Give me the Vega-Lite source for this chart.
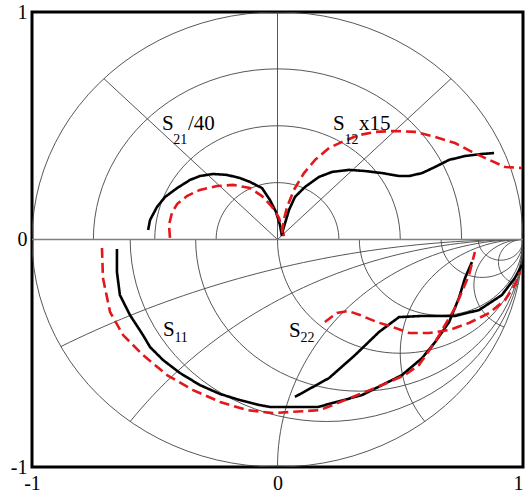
{
  "$schema": "https://vega.github.io/schema/vega-lite/v6.json",
  "width": 491,
  "height": 455,
  "autosize": {"type": "none"},
  "padding": {"left": 32, "top": 12, "right": 2, "bottom": 28},
  "background": "white",
  "config": {
    "view": {"stroke": "#000000", "strokeWidth": 3},
    "axis": {
      "labelFont": "Liberation Serif",
      "labelFontSize": 20,
      "labelColor": "#000000",
      "ticks": false,
      "domain": false,
      "grid": false,
      "title": null,
      "labelFlush": false,
      "labelOverlap": false
    }
  },
  "datasets": {
    "grid": [
      {
        "curves": [
          {"kind": "polar", "v": 0.25},
          {"kind": "polar", "v": 0.5},
          {"kind": "polar", "v": 0.75},
          {"kind": "polar", "v": 1},
          {"kind": "res", "v": 0},
          {"kind": "res", "v": 0.25},
          {"kind": "res", "v": 0.5},
          {"kind": "res", "v": 1},
          {"kind": "res", "v": 2},
          {"kind": "res", "v": 5},
          {"kind": "res", "v": 10},
          {"kind": "reac", "v": 0.25},
          {"kind": "reac", "v": 0.5},
          {"kind": "reac", "v": 1},
          {"kind": "reac", "v": 2},
          {"kind": "reac", "v": 5},
          {"kind": "reac", "v": 10}
        ],
        "t": [0,0.02,0.04,0.06,0.08,0.1,0.12,0.14,0.16,0.18,0.2,0.22,0.24,0.26,0.28,0.3,0.32,0.34,0.36,0.38,0.4,0.42,0.44,0.46,0.48,0.5,0.52,0.54,0.56,0.58,0.6,0.62,0.64,0.66,0.68,0.7,0.72,0.74,0.76,0.78,0.8,0.82,0.84,0.86,0.88,0.9,0.92,0.94,0.96,0.98,1]
      }
    ],
    "spokes": [
      {"x0": 0, "y0": 0, "x1": 0.7071, "y1": 0.7071},
      {"x0": 0, "y0": 0, "x1": 0, "y1": 1},
      {"x0": 0, "y0": 0, "x1": -0.7071, "y1": 0.7071}
    ],
    "axisline": [
      {"x0": -1, "x1": 1, "y0": 0}
    ],
    "curves": [
      {"curve": "S21 black", "set": "measured", "x": -0.527, "y": 0.042},
      {"curve": "S21 black", "set": "measured", "x": -0.519, "y": 0.086},
      {"curve": "S21 black", "set": "measured", "x": -0.491, "y": 0.143},
      {"curve": "S21 black", "set": "measured", "x": -0.458, "y": 0.187},
      {"curve": "S21 black", "set": "measured", "x": -0.409, "y": 0.226},
      {"curve": "S21 black", "set": "measured", "x": -0.356, "y": 0.262},
      {"curve": "S21 black", "set": "measured", "x": -0.316, "y": 0.279},
      {"curve": "S21 black", "set": "measured", "x": -0.263, "y": 0.288},
      {"curve": "S21 black", "set": "measured", "x": -0.206, "y": 0.284},
      {"curve": "S21 black", "set": "measured", "x": -0.153, "y": 0.270},
      {"curve": "S21 black", "set": "measured", "x": -0.112, "y": 0.253},
      {"curve": "S21 black", "set": "measured", "x": -0.063, "y": 0.226},
      {"curve": "S21 black", "set": "measured", "x": -0.031, "y": 0.174},
      {"curve": "S21 black", "set": "measured", "x": -0.006, "y": 0.121},
      {"curve": "S21 black", "set": "measured", "x": 0.010, "y": 0.064},
      {"curve": "S21 black", "set": "measured", "x": 0.018, "y": 0.015},

      {"curve": "S21 red", "set": "simulated", "x": -0.438, "y": 0.007},
      {"curve": "S21 red", "set": "simulated", "x": -0.442, "y": 0.064},
      {"curve": "S21 red", "set": "simulated", "x": -0.430, "y": 0.117},
      {"curve": "S21 red", "set": "simulated", "x": -0.409, "y": 0.156},
      {"curve": "S21 red", "set": "simulated", "x": -0.369, "y": 0.191},
      {"curve": "S21 red", "set": "simulated", "x": -0.316, "y": 0.218},
      {"curve": "S21 red", "set": "simulated", "x": -0.246, "y": 0.235},
      {"curve": "S21 red", "set": "simulated", "x": -0.181, "y": 0.240},
      {"curve": "S21 red", "set": "simulated", "x": -0.112, "y": 0.226},
      {"curve": "S21 red", "set": "simulated", "x": -0.063, "y": 0.191},
      {"curve": "S21 red", "set": "simulated", "x": -0.022, "y": 0.143},
      {"curve": "S21 red", "set": "simulated", "x": 0.006, "y": 0.095},
      {"curve": "S21 red", "set": "simulated", "x": 0.018, "y": 0.051},
      {"curve": "S21 red", "set": "simulated", "x": 0.026, "y": 0.015},

      {"curve": "S12 black", "set": "measured", "x": 0.018, "y": 0.024},
      {"curve": "S12 black", "set": "measured", "x": 0.026, "y": 0.055},
      {"curve": "S12 black", "set": "measured", "x": 0.047, "y": 0.130},
      {"curve": "S12 black", "set": "measured", "x": 0.071, "y": 0.187},
      {"curve": "S12 black", "set": "measured", "x": 0.112, "y": 0.231},
      {"curve": "S12 black", "set": "measured", "x": 0.169, "y": 0.275},
      {"curve": "S12 black", "set": "measured", "x": 0.222, "y": 0.297},
      {"curve": "S12 black", "set": "measured", "x": 0.291, "y": 0.306},
      {"curve": "S12 black", "set": "measured", "x": 0.356, "y": 0.301},
      {"curve": "S12 black", "set": "measured", "x": 0.426, "y": 0.292},
      {"curve": "S12 black", "set": "measured", "x": 0.495, "y": 0.279},
      {"curve": "S12 black", "set": "measured", "x": 0.536, "y": 0.279},
      {"curve": "S12 black", "set": "measured", "x": 0.589, "y": 0.292},
      {"curve": "S12 black", "set": "measured", "x": 0.642, "y": 0.319},
      {"curve": "S12 black", "set": "measured", "x": 0.699, "y": 0.350},
      {"curve": "S12 black", "set": "measured", "x": 0.764, "y": 0.367},
      {"curve": "S12 black", "set": "measured", "x": 0.833, "y": 0.376},
      {"curve": "S12 black", "set": "measured", "x": 0.882, "y": 0.380},

      {"curve": "S12 red", "set": "simulated", "x": 0.018, "y": 0.029},
      {"curve": "S12 red", "set": "simulated", "x": 0.026, "y": 0.086},
      {"curve": "S12 red", "set": "simulated", "x": 0.039, "y": 0.143},
      {"curve": "S12 red", "set": "simulated", "x": 0.067, "y": 0.218},
      {"curve": "S12 red", "set": "simulated", "x": 0.108, "y": 0.292},
      {"curve": "S12 red", "set": "simulated", "x": 0.153, "y": 0.350},
      {"curve": "S12 red", "set": "simulated", "x": 0.210, "y": 0.402},
      {"curve": "S12 red", "set": "simulated", "x": 0.263, "y": 0.429},
      {"curve": "S12 red", "set": "simulated", "x": 0.332, "y": 0.459},
      {"curve": "S12 red", "set": "simulated", "x": 0.397, "y": 0.473},
      {"curve": "S12 red", "set": "simulated", "x": 0.479, "y": 0.477},
      {"curve": "S12 red", "set": "simulated", "x": 0.560, "y": 0.473},
      {"curve": "S12 red", "set": "simulated", "x": 0.642, "y": 0.451},
      {"curve": "S12 red", "set": "simulated", "x": 0.723, "y": 0.424},
      {"curve": "S12 red", "set": "simulated", "x": 0.792, "y": 0.385},
      {"curve": "S12 red", "set": "simulated", "x": 0.862, "y": 0.350},
      {"curve": "S12 red", "set": "simulated", "x": 0.927, "y": 0.319},
      {"curve": "S12 red", "set": "simulated", "x": 0.997, "y": 0.314},

      {"curve": "S11 black", "set": "measured", "x": -0.654, "y": -0.042},
      {"curve": "S11 black", "set": "measured", "x": -0.654, "y": -0.143},
      {"curve": "S11 black", "set": "measured", "x": -0.642, "y": -0.244},
      {"curve": "S11 black", "set": "measured", "x": -0.601, "y": -0.332},
      {"curve": "S11 black", "set": "measured", "x": -0.548, "y": -0.420},
      {"curve": "S11 black", "set": "measured", "x": -0.519, "y": -0.473},
      {"curve": "S11 black", "set": "measured", "x": -0.466, "y": -0.530},
      {"curve": "S11 black", "set": "measured", "x": -0.397, "y": -0.587},
      {"curve": "S11 black", "set": "measured", "x": -0.316, "y": -0.640},
      {"curve": "S11 black", "set": "measured", "x": -0.234, "y": -0.679},
      {"curve": "S11 black", "set": "measured", "x": -0.153, "y": -0.706},
      {"curve": "S11 black", "set": "measured", "x": -0.071, "y": -0.728},
      {"curve": "S11 black", "set": "measured", "x": -0.031, "y": -0.736},
      {"curve": "S11 black", "set": "measured", "x": 0.165, "y": -0.736},
      {"curve": "S11 black", "set": "measured", "x": 0.344, "y": -0.684},
      {"curve": "S11 black", "set": "measured", "x": 0.507, "y": -0.596},
      {"curve": "S11 black", "set": "measured", "x": 0.589, "y": -0.521},
      {"curve": "S11 black", "set": "measured", "x": 0.642, "y": -0.451},
      {"curve": "S11 black", "set": "measured", "x": 0.699, "y": -0.363},
      {"curve": "S11 black", "set": "measured", "x": 0.739, "y": -0.257},
      {"curve": "S11 black", "set": "measured", "x": 0.764, "y": -0.169},
      {"curve": "S11 black", "set": "measured", "x": 0.792, "y": -0.099},

      {"curve": "S11 red", "set": "simulated", "x": -0.715, "y": -0.037},
      {"curve": "S11 red", "set": "simulated", "x": -0.711, "y": -0.169},
      {"curve": "S11 red", "set": "simulated", "x": -0.682, "y": -0.319},
      {"curve": "S11 red", "set": "simulated", "x": -0.629, "y": -0.420},
      {"curve": "S11 red", "set": "simulated", "x": -0.548, "y": -0.508},
      {"curve": "S11 red", "set": "simulated", "x": -0.450, "y": -0.596},
      {"curve": "S11 red", "set": "simulated", "x": -0.344, "y": -0.662},
      {"curve": "S11 red", "set": "simulated", "x": -0.234, "y": -0.714},
      {"curve": "S11 red", "set": "simulated", "x": -0.124, "y": -0.750},
      {"curve": "S11 red", "set": "simulated", "x": -0.018, "y": -0.763},
      {"curve": "S11 red", "set": "simulated", "x": 0.173, "y": -0.750},
      {"curve": "S11 red", "set": "simulated", "x": 0.397, "y": -0.653},
      {"curve": "S11 red", "set": "simulated", "x": 0.519, "y": -0.596},
      {"curve": "S11 red", "set": "simulated", "x": 0.576, "y": -0.552},
      {"curve": "S11 red", "set": "simulated", "x": 0.642, "y": -0.451},
      {"curve": "S11 red", "set": "simulated", "x": 0.723, "y": -0.301},
      {"curve": "S11 red", "set": "simulated", "x": 0.780, "y": -0.156},
      {"curve": "S11 red", "set": "simulated", "x": 0.804, "y": -0.055},

      {"curve": "S22 black", "set": "measured", "x": 0.071, "y": -0.692},
      {"curve": "S22 black", "set": "measured", "x": 0.210, "y": -0.609},
      {"curve": "S22 black", "set": "measured", "x": 0.316, "y": -0.508},
      {"curve": "S22 black", "set": "measured", "x": 0.413, "y": -0.407},
      {"curve": "S22 black", "set": "measured", "x": 0.495, "y": -0.341},
      {"curve": "S22 black", "set": "measured", "x": 0.589, "y": -0.336},
      {"curve": "S22 black", "set": "measured", "x": 0.723, "y": -0.336},
      {"curve": "S22 black", "set": "measured", "x": 0.821, "y": -0.310},
      {"curve": "S22 black", "set": "measured", "x": 0.914, "y": -0.244},
      {"curve": "S22 black", "set": "measured", "x": 0.967, "y": -0.169},
      {"curve": "S22 black", "set": "measured", "x": 0.996, "y": -0.112},

      {"curve": "S22 red", "set": "simulated", "x": 0.193, "y": -0.363},
      {"curve": "S22 red", "set": "simulated", "x": 0.242, "y": -0.323},
      {"curve": "S22 red", "set": "simulated", "x": 0.287, "y": -0.314},
      {"curve": "S22 red", "set": "simulated", "x": 0.336, "y": -0.332},
      {"curve": "S22 red", "set": "simulated", "x": 0.405, "y": -0.363},
      {"curve": "S22 red", "set": "simulated", "x": 0.470, "y": -0.385},
      {"curve": "S22 red", "set": "simulated", "x": 0.536, "y": -0.411},
      {"curve": "S22 red", "set": "simulated", "x": 0.617, "y": -0.411},
      {"curve": "S22 red", "set": "simulated", "x": 0.699, "y": -0.398},
      {"curve": "S22 red", "set": "simulated", "x": 0.780, "y": -0.367},
      {"curve": "S22 red", "set": "simulated", "x": 0.862, "y": -0.323},
      {"curve": "S22 red", "set": "simulated", "x": 0.927, "y": -0.266},
      {"curve": "S22 red", "set": "simulated", "x": 0.967, "y": -0.200},
      {"curve": "S22 red", "set": "simulated", "x": 0.988, "y": -0.143}
    ],
    "labels": [
      {"part": "main", "txt": "S", "x": -0.470, "y": 0.481},
      {"part": "sub", "txt": "21", "x": -0.425, "y": 0.418},
      {"part": "main", "txt": "/40", "x": -0.365, "y": 0.481},
      {"part": "main", "txt": "S", "x": 0.226, "y": 0.481},
      {"part": "sub", "txt": "12", "x": 0.273, "y": 0.418},
      {"part": "main", "txt": "x15", "x": 0.332, "y": 0.481},
      {"part": "main", "txt": "S", "x": -0.466, "y": -0.424},
      {"part": "sub", "txt": "11", "x": -0.420, "y": -0.451},
      {"part": "main", "txt": "S", "x": 0.047, "y": -0.429},
      {"part": "sub", "txt": "22", "x": 0.094, "y": -0.451}
    ]
  },
  "layer": [
    {
      "data": {"name": "grid"},
      "transform": [
        {"flatten": ["curves"]},
        {"flatten": ["t"]},
        {"calculate": "datum.curves.kind", "as": "kind"},
        {"calculate": "datum.curves.v", "as": "v"},
        {"calculate": "datum.kind + ':' + datum.v", "as": "id"},
        {"calculate": "datum.kind === 'polar' ? 0 : datum.kind === 'res' ? datum.v / (1 + datum.v) : 1", "as": "cx"},
        {"calculate": "datum.kind === 'reac' ? -1 / datum.v : 0", "as": "cy"},
        {"calculate": "datum.kind === 'polar' ? datum.v : datum.kind === 'res' ? 1 / (1 + datum.v) : 1 / datum.v", "as": "R"},
        {"calculate": "datum.kind === 'polar' ? 0 : datum.kind === 'res' ? PI : PI / 2", "as": "a0"},
        {"calculate": "datum.kind === 'polar' ? PI : datum.kind === 'res' ? 2 * PI : PI / 2 + 2 * atan(datum.v)", "as": "a1"},
        {"calculate": "datum.a0 + datum.t * (datum.a1 - datum.a0)", "as": "a"},
        {"calculate": "datum.cx + datum.R * cos(datum.a)", "as": "gx"},
        {"calculate": "datum.cy + datum.R * sin(datum.a)", "as": "gy"}
      ],
      "mark": {"type": "line", "stroke": "#444444", "strokeWidth": 0.9, "clip": true},
      "encoding": {
        "x": {
          "field": "gx", "type": "quantitative",
          "scale": {"domain": [-1, 1], "nice": false, "zero": false},
          "axis": {
            "values": [-1, 0, 1],
            "labelPadding": 6,
            "labelAlign": {"condition": {"test": "datum.value === 1", "value": "right"}, "value": "center"},
            "labelExpr": "datum.value < 0 ? '-1' : datum.value > 0 ? '1' : '0'"
          }
        },
        "y": {
          "field": "gy", "type": "quantitative",
          "scale": {"domain": [-1, 1], "nice": false, "zero": false},
          "axis": {"values": [-1, 0, 1], "labelPadding": 5, "labelExpr": "datum.value < 0 ? '-1' : datum.value > 0 ? '1' : '0'"}
        },
        "detail": {"field": "id", "type": "nominal"},
        "order": {"value": null}
      }
    },
    {
      "data": {"name": "spokes"},
      "mark": {"type": "rule", "stroke": "#444444", "strokeWidth": 0.9},
      "encoding": {
        "x": {"field": "x0", "type": "quantitative"},
        "y": {"field": "y0", "type": "quantitative"},
        "x2": {"field": "x1"},
        "y2": {"field": "y1"}
      }
    },
    {
      "data": {"name": "axisline"},
      "mark": {"type": "rule", "stroke": "#808080", "strokeWidth": 1.6},
      "encoding": {
        "x": {"field": "x0", "type": "quantitative"},
        "x2": {"field": "x1"},
        "y": {"field": "y0", "type": "quantitative"}
      }
    },
    {
      "data": {"name": "curves"},
      "mark": {"type": "line", "strokeWidth": 2.6, "clip": true, "strokeCap": "butt"},
      "encoding": {
        "x": {"field": "x", "type": "quantitative"},
        "y": {"field": "y", "type": "quantitative"},
        "detail": {"field": "curve", "type": "nominal"},
        "order": {"value": null},
        "color": {
          "field": "set", "type": "nominal",
          "scale": {"domain": ["measured", "simulated"], "range": ["#000000", "#e3161b"]},
          "legend": null
        },
        "strokeDash": {
          "field": "set", "type": "nominal",
          "scale": {"domain": ["measured", "simulated"], "range": [[1, 0], [10, 5]]},
          "legend": null
        }
      }
    },
    {
      "data": {"name": "labels"},
      "transform": [{"filter": "datum.part === 'main'"}],
      "mark": {"type": "text", "font": "Liberation Serif", "fontSize": 21, "align": "left", "baseline": "alphabetic", "color": "#000000"},
      "encoding": {
        "x": {"field": "x", "type": "quantitative"},
        "y": {"field": "y", "type": "quantitative"},
        "text": {"field": "txt"}
      }
    },
    {
      "data": {"name": "labels"},
      "transform": [{"filter": "datum.part === 'sub'"}],
      "mark": {"type": "text", "font": "Liberation Serif", "fontSize": 14, "align": "left", "baseline": "alphabetic", "color": "#000000"},
      "encoding": {
        "x": {"field": "x", "type": "quantitative"},
        "y": {"field": "y", "type": "quantitative"},
        "text": {"field": "txt"}
      }
    }
  ]
}
